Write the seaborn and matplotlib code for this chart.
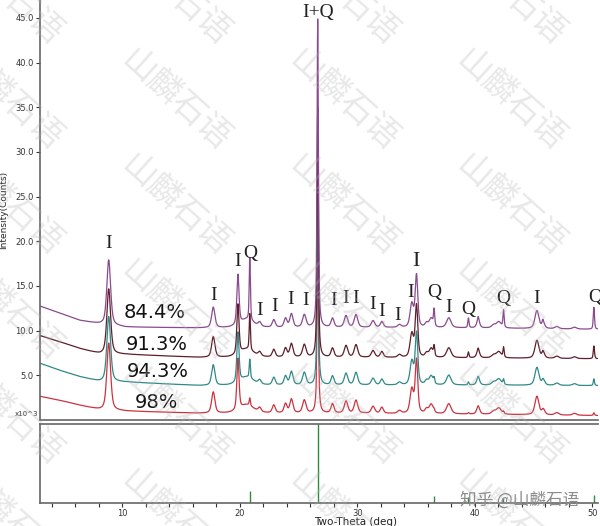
import matplotlib
matplotlib.use('Agg')

import numpy as np
import pandas as pd
import matplotlib.pyplot as plt
import seaborn as sns

# --- data --------------------------------------------------------------
samples = ["84.4%", "91.3%", "94.3%", "98%"]
colors = ["#8a4a8e", "#5e1f2b", "#2f8a88", "#cc3340"]

# baseline knots (2-theta, intensity x10^3) per sample
base_tt = [3.0, 4.7, 6.4, 8.1, 10.3, 16.6, 30.0, 40.0, 50.5]
base_84 = [12.75, 11.95, 11.15, 10.75, 10.4, 10.3, 10.35, 10.3, 10.15]
base_91 = [9.45, 8.75, 8.0, 7.4, 7.35, 7.0, 7.0, 6.95, 6.85]
base_94 = [6.35, 5.55, 4.85, 4.3, 4.25, 3.85, 3.9, 3.9, 3.85]
base_98 = [2.65, 2.2, 1.65, 1.15, 1.0, 0.75, 0.75, 0.65, 0.5]
baselines = [base_84, base_91, base_94, base_98]

# illite reflections: position, height, width
ill_pos = [8.85, 17.75, 19.85, 20.6, 21.7, 22.9, 23.9, 24.4, 25.5, 26.65,
           27.9, 29.05, 29.9, 31.35, 32.1, 33.6, 34.65, 35.05, 35.9, 36.3,
           37.8, 40.3, 41.6, 42.05, 45.3, 45.85, 47.0, 48.5]
ill_h = [7.3, 2.3, 5.6, 0.9, 0.45, 0.85, 1.0, 1.5, 1.4, 2.0,
         1.0, 1.3, 1.4, 0.75, 0.65, 0.3, 2.6, 5.8, 0.45, 1.0,
         1.1, 0.85, 0.3, 0.7, 2.0, 0.55, 0.25, 0.2]
ill_w = [0.38, 0.33, 0.22, 1.4, 0.3, 0.3, 0.3, 0.32, 0.35, 0.3,
         0.3, 0.35, 0.35, 0.35, 0.3, 0.35, 0.35, 0.26, 0.3, 0.4,
         0.45, 0.3, 0.4, 0.5, 0.4, 0.3, 0.4, 0.4]
ill_scale = [1.0, 1.0, 1.0, 1.03]

# quartz reflections (heights for the 84.4% sample)
qtz_pos = [20.86, 36.55, 39.47, 40.3, 42.46, 45.8, 50.15]
qtz_h = [7.0, 1.8, 1.1, 0.4, 1.9, 0.4, 2.5]
qtz_scale = [1.0, 0.58, 0.3, 0.12]

# strongest peak 26.64 (I+Q), height above baseline per sample
main_pos = 26.64
main_h = [32.5, 26.0, 21.5, 17.5]

# reference sticks (quartz card) in lower panel
stick_pos = [20.86, 26.64, 36.54, 39.46, 42.45, 50.14]
stick_h = [15, 100, 9, 8, 6, 10]

# phase labels: text, 2-theta, intensity, size
labels = [("I", 8.81, 19.8, 14), ("I", 17.74, 13.9, 14), ("I", 19.79, 17.7, 14),
          ("Q", 20.89, 18.6, 14), ("I", 21.66, 12.3, 14), ("I", 22.94, 12.75, 14),
          ("I", 24.3, 13.5, 14), ("I", 25.57, 13.4, 14), ("I+Q", 26.68, 45.6, 14),
          ("I", 27.96, 13.4, 14), ("I", 28.98, 13.65, 14), ("I", 29.83, 13.65, 14),
          ("I", 31.3, 12.9, 14), ("I", 32.04, 12.1, 14), ("I", 33.4, 11.75, 14),
          ("I", 34.51, 14.3, 14), ("I", 35.02, 17.7, 16), ("Q", 36.55, 14.3, 14),
          ("I", 37.74, 12.6, 14), ("Q", 39.45, 12.4, 14), ("Q", 42.43, 13.65, 14),
          ("I", 45.23, 13.65, 14), ("Q", 50.25, 13.75, 14)]
pct_pos = [(12.8, 12.0), (12.95, 8.4), (13.05, 5.4), (12.95, 2.0)]


def peaks(x, pos, h, w):
    """pseudo-Voigt sum"""
    y = np.zeros_like(x)
    for c, a, fw in zip(pos, h, w):
        d = (x - c) / (fw / 2)
        y += a * (0.5 / (1 + d ** 2) + 0.5 * np.exp(-np.log(2) * d ** 2))
    return y


tt = np.arange(3.0, 50.5, 0.02)
frames = []
for i, s in enumerate(samples):
    y = np.interp(tt, base_tt, baselines[i])
    y += ill_scale[i] * peaks(tt, ill_pos, ill_h, ill_w)
    y += qtz_scale[i] * peaks(tt, qtz_pos, qtz_h, [0.12] * len(qtz_pos))
    y += peaks(tt, [main_pos], [main_h[i]], [0.13])
    frames.append(pd.DataFrame({"tt": tt, "I": y, "sample": s}))
df = pd.concat(frames[::-1])

# --- figure -------------------------------------------------------------
sns.set_theme(style="white")
fig = plt.figure(figsize=(6.0, 5.26), dpi=100)
ax = fig.add_axes([40 / 600, 1 - 420 / 526, 558 / 600, 420 / 526])
ax2 = fig.add_axes([40 / 600, 1 - 503 / 526, 558 / 600, 79 / 526])

sns.lineplot(data=df, x="tt", y="I", hue="sample", hue_order=samples[::-1],
             palette=colors[::-1], estimator=None, sort=False, linewidth=0.9,
             legend=False, ax=ax)

ax.set_xlim(3.0, 50.5)
ax.set_ylim(0, 47)
ax.set_yticks(np.arange(5, 46, 5))
ax.set_yticklabels([f"{v:.1f}" for v in np.arange(5, 46, 5)])
ax.set_xticks([])
ax.set_xlabel("")
ax.set_ylabel("Intensity(Counts)", fontsize=6.5, color="#222")
ax.yaxis.set_label_coords(-0.057, 0.5)
ax.tick_params(axis="y", direction="out", length=3, width=0.8, labelsize=6,
               colors="#333", pad=1.5, left=True)
for side in ["top", "right"]:
    ax.spines[side].set_visible(False)
for side in ["left", "bottom"]:
    ax.spines[side].set_color("#666")
    ax.spines[side].set_linewidth(1.2)

for txt, x, y, sz in labels:
    ax.text(x, y, txt, ha="center", va="center", fontsize=sz,
            family="Liberation Serif", color="#222")
for s, (x, y) in zip(samples, pct_pos):
    ax.text(x, y, s, ha="center", va="center", fontsize=14, color="#111")

fig.text(27 / 600, 1 - 414 / 526, "x10^3", fontsize=5, ha="center",
         va="center", color="#333")

# lower panel: reference sticks
ax2.vlines(stick_pos, 0, stick_h, color="#2e8b3e", linewidth=1.0)
ax2.set_xlim(3.0, 50.5)
ax2.set_ylim(0, 100)
ax2.set_yticks([])
ax2.set_xticks(np.arange(4, 51, 2))
ax2.set_xticklabels([str(v) if v % 10 == 0 else "" for v in range(4, 51, 2)])
ax2.tick_params(axis="x", direction="out", length=3, width=0.8, labelsize=6,
                colors="#333", pad=1, bottom=True)
ax2.set_xlabel("Two-Theta (deg)", fontsize=7.5, color="#222")
ax2.xaxis.set_label_coords(0.565, -0.175)
ax2.spines["right"].set_visible(False)
for side in ["left", "bottom", "top"]:
    ax2.spines[side].set_color("#666")
    ax2.spines[side].set_linewidth(1.2)

# watermark
for cx in [7, 175, 343, 510]:
    for cy in [-5, 100, 205, 310, 415, 520]:
        fig.text(cx / 600, 1 - cy / 526, "山麟石语", fontsize=24, rotation=-42,
                 ha="center", va="center", color="#b4b4b4", alpha=0.3,
                 family=["Noto Sans CJK SC", "DejaVu Sans"], zorder=10)
fig.text(520 / 600, 1 - 500 / 526, "知乎 @山麟石语", fontsize=12, ha="center",
         va="center", color="#8c8c8c", family=["Noto Sans CJK SC", "DejaVu Sans"],
         zorder=11)

fig.savefig("out.png", dpi=100)
plt.close(fig)
